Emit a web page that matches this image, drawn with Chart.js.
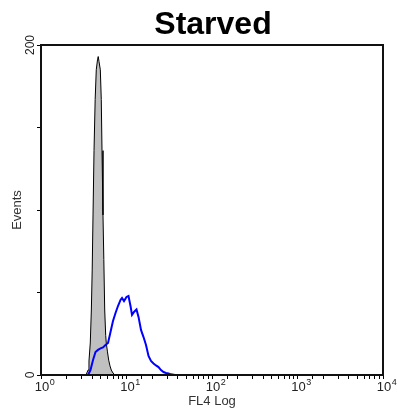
<!DOCTYPE html>
<html>
<head>
<meta charset="utf-8">
<script src="https://cdn.jsdelivr.net/npm/chart.js@4.4.1/dist/chart.umd.min.js"></script>
<style>
  html, body { margin: 0; padding: 0; background: #fff; }
  canvas { display: block; }
</style>
</head>
<body>
<canvas id="myChart" width="397" height="410"></canvas>
<script>
const FONT = "'Liberation Sans', Arial, sans-serif";

const chartTitle = "Starved";
const decades = [1, 10, 100, 1000, 10000];
const yLabels = [0, 200];

// grey filled control histogram: FL4 value / events
const controlX = [3.36, 3.55, 3.64, 3.77, 3.88, 3.97, 4.06, 4.17, 4.30, 4.43, 4.58, 4.67, 4.77, 4.94, 5.07, 5.17, 5.31, 5.43, 5.56, 5.71, 5.80, 5.99, 6.19, 6.41, 6.64, 6.95, 7.34];
const controlY = [0, 3, 8.5, 19.4, 39.4, 63.6, 97, 136, 167, 185, 191, 193, 190, 185, 167, 136, 97, 70, 39.4, 24, 19.4, 14, 9, 5.5, 3, 1.2, 0];

// blue starved histogram
const starvedX = [3.55, 3.79, 4.06, 4.34, 4.64, 4.97, 5.31, 5.68, 6.08, 6.50, 6.95, 7.44, 7.95, 8.51, 8.86, 9.35, 10.0, 10.55, 11.14, 11.60, 12.24, 13.09, 13.82, 14.78, 15.81, 16.91, 18.09, 19.34, 20.69, 22.13, 23.67, 25.32, 27.08, 28.97, 30.99, 33.15, 36.93];
const starvedY = [0, 3.0, 9.1, 13.9, 15.2, 16.1, 16.7, 18.2, 19.4, 26.1, 32.7, 37.6, 41.8, 45.5, 46.7, 44.8, 47.3, 47.9, 41.8, 36.4, 38.2, 39.7, 35.2, 27.3, 23.0, 18.2, 11.5, 8.5, 7.0, 5.8, 4.8, 3.0, 1.8, 1.2, 0.9, 0.4, 0];

const toPoints = (xs, ys) => xs.map((v, i) => ({ x: v, y: ys[i] }));

const frame = {
  id: "frame",
  afterDraw(chart) {
    const { ctx, chartArea: a, scales: { x, y } } = chart;
    ctx.save();
    ctx.strokeStyle = "#111";
    ctx.lineWidth = 2;
    ctx.strokeRect(a.left, a.top, a.right - a.left, a.bottom - a.top);

    // title centred over the plot box
    ctx.fillStyle = "#000";
    ctx.font = "bold 32px " + FONT;
    ctx.textAlign = "center";
    ctx.textBaseline = "alphabetic";
    ctx.fillText(chartTitle, (a.left + a.right) / 2 + 1, 34);

    ctx.fillStyle = "#222";
    ctx.textBaseline = "top";
    decades.forEach((d, i) => {
      const px = x.getPixelForValue(d);
      ctx.font = "13px " + FONT;
      ctx.textAlign = "center";
      ctx.fillText("10", px + 1, a.bottom + 6);
      const w = ctx.measureText("10").width;
      ctx.font = "9px " + FONT;
      ctx.textAlign = "left";
      ctx.fillText(String(i), px + 1 + w / 2 + 0.5, a.bottom + 3);
    });

    ctx.font = "12px " + FONT;
    ctx.textAlign = "center";
    ctx.textBaseline = "middle";
    yLabels.forEach(v => {
      ctx.save();
      ctx.translate(a.left - 10, y.getPixelForValue(v));
      ctx.rotate(-Math.PI / 2);
      ctx.fillText(String(v), 0, 0);
      ctx.restore();
    });
    ctx.restore();
  }
};

const ctx = document.getElementById("myChart").getContext("2d");

new Chart(ctx, {
  type: "line",
  data: {
    datasets: [
      {
        label: "Starved",
        data: toPoints(starvedX, starvedY),
        borderColor: "#0000ff",
        borderWidth: 2,
        pointRadius: 0,
        fill: false,
        tension: 0,
        order: 0,
      },
      {
        label: "Control",
        data: toPoints(controlX, controlY),
        borderColor: "#000",
        borderWidth: 1,
        backgroundColor: "#c0c0c0",
        fill: "origin",
        pointRadius: 0,
        tension: 0,
        order: 1,
      },
    ],
  },
  options: {
    responsive: false,
    animation: false,
    layout: { padding: { top: 45, right: 14, bottom: 0, left: 0 } },
    plugins: {
      legend: { display: false },
      tooltip: { enabled: false },
      title: { display: false },
    },
    scales: {
      x: {
        type: "logarithmic",
        min: 1,
        max: 10000,
        border: { color: "#000", width: 2 },
        grid: { drawOnChartArea: false, tickLength: 4, color: "#000" },
        ticks: { display: false },
        title: {
          display: true,
          text: "FL4 Log",
          color: "#333",
          font: { family: FONT, size: 13, lineHeight: 1.2 },
          padding: { top: 14.2, bottom: 1.2 },
        },
      },
      y: {
        min: 0,
        max: 200,
        border: { color: "#000", width: 2 },
        grid: { drawOnChartArea: false, tickLength: 4, color: "#000" },
        ticks: { display: false, stepSize: 50 },
        title: {
          display: true,
          text: "Events",
          color: "#333",
          font: { family: FONT, size: 13, lineHeight: 1.2 },
          padding: { top: 9.2, bottom: 12.2 },
        },
      },
    },
  },
  plugins: [frame],
});
</script>
</body>
</html>
